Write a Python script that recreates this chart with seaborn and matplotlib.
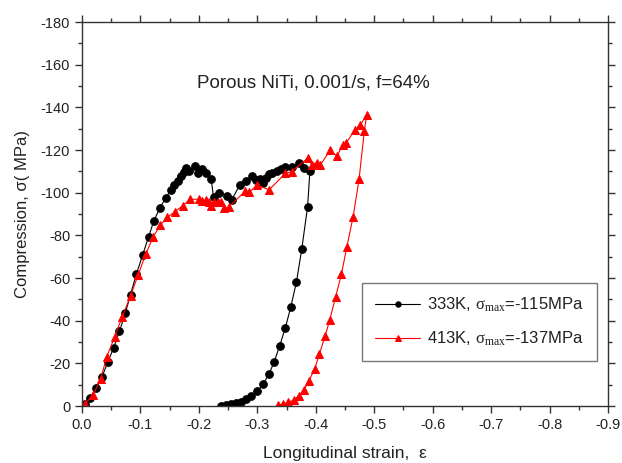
import matplotlib
matplotlib.use("Agg")
import matplotlib.pyplot as plt
from matplotlib.ticker import MultipleLocator
import seaborn as sns
import pandas as pd

# 333K series (strain, stress in MPa) - loading then unloading
strain_333 = [-0.005, -0.014, -0.024, -0.034, -0.044, -0.054, -0.064, -0.074, -0.083, -0.093,
              -0.104, -0.114, -0.123, -0.133, -0.143, -0.152, -0.158, -0.164, -0.170, -0.174,
              -0.178, -0.183, -0.194, -0.198, -0.205, -0.212, -0.221, -0.225, -0.235, -0.248,
              -0.256, -0.270, -0.281, -0.291, -0.297, -0.305, -0.310, -0.314, -0.320, -0.325,
              -0.333, -0.340, -0.348, -0.359, -0.371, -0.379, -0.390,
              -0.386, -0.376, -0.367, -0.357, -0.348, -0.338, -0.329, -0.320, -0.310, -0.300,
              -0.290, -0.281, -0.272, -0.264, -0.255, -0.247, -0.238]
stress_333 = [-0.9, -3.9, -8.3, -13.5, -20.5, -27.2, -35.0, -43.4, -52.2, -61.8,
              -71.0, -79.4, -86.8, -92.7, -97.4, -101.2, -103.6, -105.4, -108.0, -109.7,
              -111.4, -110.2, -112.5, -109.0, -111.2, -109.0, -106.6, -97.9, -100.0, -98.5,
              -96.6, -103.6, -105.6, -107.8, -105.9, -106.2, -104.7, -106.7, -108.6, -109.4,
              -110.3, -110.9, -112.2, -111.9, -114.1, -111.4, -110.3,
              -93.4, -73.5, -58.2, -46.2, -36.7, -28.1, -20.8, -15.0, -10.3, -7.0,
              -4.7, -3.1, -2.0, -1.2, -0.8, -0.3, -0.2]

# 413K series
strain_413 = [-0.005, -0.019, -0.032, -0.042, -0.056, -0.069, -0.083, -0.096, -0.109, -0.122,
              -0.134, -0.146, -0.159, -0.172, -0.185, -0.200, -0.206, -0.213, -0.218, -0.221,
              -0.225, -0.232, -0.238, -0.243, -0.251, -0.279, -0.286, -0.300, -0.320, -0.348,
              -0.359, -0.386, -0.393, -0.402, -0.408, -0.425, -0.436, -0.446, -0.452, -0.467,
              -0.476, -0.487,
              -0.483, -0.474, -0.464, -0.453, -0.444, -0.434, -0.424, -0.416, -0.406, -0.398,
              -0.388, -0.380, -0.371, -0.362, -0.353, -0.344, -0.336]
stress_413 = [-0.9, -5.2, -12.7, -22.8, -32.5, -41.9, -51.6, -61.4, -71.2, -79.4,
              -84.8, -88.4, -91.1, -93.8, -96.9, -96.9, -96.2, -96.5, -95.4, -93.8,
              -95.8, -95.6, -95.8, -92.6, -93.3, -100.6, -100.2, -103.6, -101.3, -109.0,
              -109.9, -116.2, -113.1, -114.1, -113.1, -120.0, -117.0, -122.3, -123.3, -129.5,
              -131.7, -136.4,
              -128.8, -106.2, -88.8, -74.4, -61.9, -51.2, -40.5, -32.8, -24.2, -17.2,
              -11.7, -7.5, -4.7, -2.8, -1.7, -0.9, -0.5]

labels = [r"333K, $\sigma_{\rm max}$=-115MPa", r"413K, $\sigma_{\rm max}$=-137MPa"]

sns.set_style("ticks")
plt.rcParams["font.family"] = ["Liberation Sans", "DejaVu Sans"]
plt.rcParams["mathtext.fontset"] = "custom"
plt.rcParams["mathtext.rm"] = "Liberation Serif"
plt.rcParams["mathtext.it"] = "Liberation Serif"

fig = plt.figure(figsize=(6.22, 4.63), dpi=100)
ax = fig.add_axes([82/622, 57/463, 526/622, 384/463])

df1 = pd.DataFrame({"strain": strain_333, "stress": stress_333})
df2 = pd.DataFrame({"strain": strain_413, "stress": stress_413})

sns.lineplot(data=df1, x="strain", y="stress", sort=False, estimator=None, ax=ax,
             color="black", linewidth=0.8, marker="o", markersize=5.5,
             markeredgecolor="black", label=labels[0])
sns.lineplot(data=df2, x="strain", y="stress", sort=False, estimator=None, ax=ax,
             color="red", linewidth=0.8, marker="^", markersize=5.5,
             markeredgecolor="red", label=labels[1])

ax.set_xlim(0, -0.9)
ax.set_ylim(0, -180)
ax.xaxis.set_major_locator(MultipleLocator(0.1))
ax.xaxis.set_minor_locator(MultipleLocator(0.05))
ax.yaxis.set_major_locator(MultipleLocator(20))
ax.yaxis.set_minor_locator(MultipleLocator(10))
ax.xaxis.set_major_formatter(plt.FuncFormatter(lambda v, p: "0.0" if abs(v) < 1e-9 else f"{v:.1f}"))
ax.yaxis.set_major_formatter(plt.FuncFormatter(lambda v, p: f"{int(round(v))}"))

for s in ax.spines.values():
    s.set_visible(True)
    s.set_linewidth(1.0)
    s.set_color("#333333")
ax.tick_params(which="both", direction="out", top=True, right=True,
               labeltop=False, labelright=False, colors="#333333", labelcolor="#222222")
ax.tick_params(which="major", length=5, width=1, labelsize=10.5)
ax.tick_params(which="minor", length=3, width=1)

ax.set_xlabel("Longitudinal strain,  ε", fontsize=12.5, color="#222222", labelpad=10)
ax.set_ylabel("Compression, σ( MPa)", fontsize=12, color="#222222", labelpad=8)

ax.text(0.44, 0.84, "Porous NiTi, 0.001/s, f=64%", transform=ax.transAxes,
        ha="center", va="center", fontsize=13.5, color="#222222")

leg = ax.legend(loc="lower right", bbox_to_anchor=(0.979, 0.117), borderaxespad=0,
                fontsize=12, frameon=True, fancybox=False, edgecolor="#555555",
                borderpad=0.8, labelspacing=0.9, handlelength=2.7, handletextpad=0.4,
                numpoints=1, markerscale=0.7)
leg.get_frame().set_linewidth(1.0)
for t in leg.get_texts():
    t.set_color("#222222")

fig.savefig("out.png", dpi=100)
